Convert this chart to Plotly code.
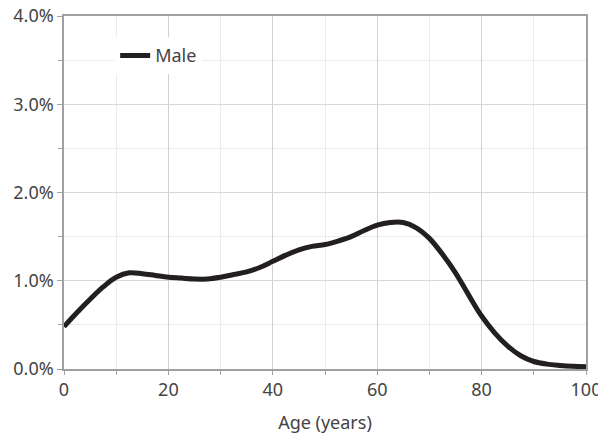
import plotly.graph_objects as go

ages = [0, 2.5, 5, 7.5, 10, 12.5, 15, 17.5, 20, 22.5, 25, 27.5, 30, 32.5, 35, 37.5,
        40, 42.5, 45, 47.5, 50, 52.5, 55, 57.5, 60, 62.5, 65, 67.5, 70, 72.5, 75,
        77.5, 80, 82.5, 85, 87.5, 90, 92.5, 95, 97.5, 100]
male_pct = [0.48, 0.64, 0.79, 0.93, 1.04, 1.09, 1.08, 1.06, 1.04, 1.03, 1.02, 1.02,
            1.04, 1.07, 1.10, 1.15, 1.22, 1.29, 1.35, 1.39, 1.41, 1.45, 1.50, 1.57,
            1.63, 1.66, 1.66, 1.60, 1.48, 1.30, 1.09, 0.84, 0.60, 0.41, 0.26, 0.15,
            0.085, 0.055, 0.04, 0.03, 0.025]
series_name = "Male"
x_title = "Age (years)"

font_family = "Noto Sans, sans-serif"
txt = "#444444"
fs = 18

fig = go.Figure()
fig.add_trace(go.Scatter(
    x=ages, y=male_pct, mode="lines", name=series_name,
    line=dict(color="#231f20", width=5, shape="spline", smoothing=1.0),
))

fig.update_layout(
    width=598, height=442,
    margin=dict(l=64, r=12, t=16, b=73, autoexpand=False),
    paper_bgcolor="white", plot_bgcolor="white",
    font=dict(family=font_family, size=fs, color=txt),
    showlegend=True,
    legend=dict(x=0.098, y=0.94, xanchor="left", yanchor="top",
                bgcolor="white", borderwidth=0, font=dict(size=fs, color=txt),
                itemwidth=30),
    xaxis=dict(
        range=[0, 100], dtick=20, tick0=0, automargin=False,
        ticklabeloverflow="allow",
        showgrid=True, gridcolor="#d0d0d0", gridwidth=1,
        showline=True, linecolor="#a0a0a0", linewidth=1.5, mirror=True,
        ticks="outside", ticklen=4, tickcolor="#a0a0a0",
        minor=dict(dtick=10, showgrid=True, gridcolor="#ececec", ticks="outside",
                   ticklen=4, tickcolor="#a0a0a0"),
        zeroline=False,
        title=dict(text=x_title, font=dict(size=fs, color=txt), standoff=16),
        tickfont=dict(size=fs, color=txt),
    ),
    yaxis=dict(
        range=[0, 4], dtick=1, tick0=0, automargin=False,
        ticklabeloverflow="allow",
        tickformat=".1f", ticksuffix="%",
        showgrid=True, gridcolor="#d8d8d8", gridwidth=1,
        showline=True, linecolor="#a0a0a0", linewidth=1.5, mirror=True,
        ticks="outside", ticklen=5, tickcolor="#a0a0a0",
        minor=dict(dtick=0.5, showgrid=True, gridcolor="#ececec", ticks="outside",
                   ticklen=4, tickcolor="#a0a0a0"),
        zeroline=False,
        tickfont=dict(size=fs, color=txt),
    ),
)

# remove the page's default 8px body margin so the figure fills the window exactly
fig.write_html("out.html",
               config={"displayModeBar": False},
               post_script="document.body.style.margin='0';document.body.style.overflow='hidden';")
